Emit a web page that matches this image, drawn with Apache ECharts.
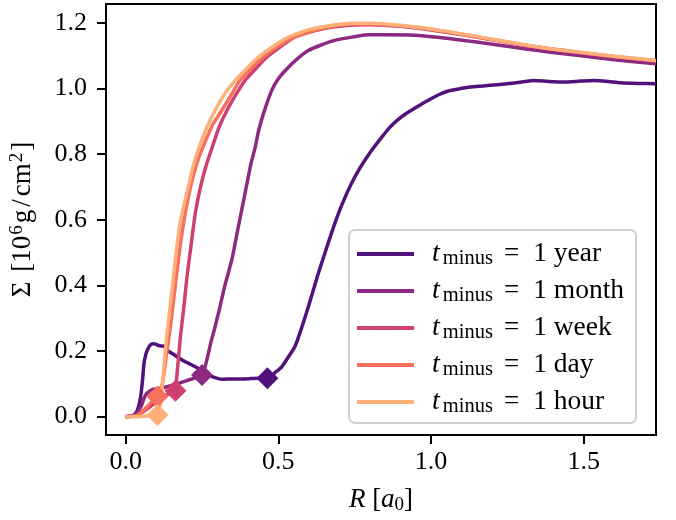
<!DOCTYPE html>
<html>
<head>
<meta charset="utf-8">
<script src="https://cdn.jsdelivr.net/npm/echarts@6/dist/echarts.min.js"></script>
<style>html,body{margin:0;padding:0;background:#fff}#c{width:676px;height:520px}</style>
</head>
<body>
<div id="c"></div>
<script>
// ---- data (R [a0], Sigma [1e6 g/cm2]) ----
const seriesNames = ['1 year', '1 month', '1 week', '1 day', '1 hour'];
const seriesColors = ['#51127c', '#8c2981', '#cd4071', '#f7705c', '#feb078'];

const yearPts = [[0,0],[0.02,0.002],[0.033,0.01],[0.042,0.03],[0.049,0.061],[0.055,0.11],[0.06,0.163],[0.066,0.19],[0.071,0.203],[0.08,0.218],[0.09,0.222],[0.098,0.221],[0.11,0.216],[0.125,0.215],[0.14,0.2],[0.16,0.188],[0.185,0.173],[0.205,0.163],[0.228,0.152],[0.25,0.14],[0.272,0.127],[0.295,0.118],[0.315,0.114],[0.35,0.115],[0.38,0.115],[0.41,0.116],[0.435,0.117],[0.464,0.117],[0.49,0.135],[0.511,0.152],[0.535,0.185],[0.554,0.213],[0.576,0.27],[0.6,0.34],[0.631,0.437],[0.66,0.52],[0.685,0.589],[0.71,0.65],[0.739,0.71],[0.77,0.762],[0.804,0.81],[0.837,0.85],[0.865,0.882],[0.891,0.905],[0.92,0.925],[0.946,0.94],[0.975,0.956],[1.0,0.969],[1.027,0.982],[1.054,0.992],[1.09,0.999],[1.13,1.005],[1.17,1.008],[1.217,1.012],[1.272,1.017],[1.337,1.025],[1.385,1.022],[1.435,1.02],[1.49,1.023],[1.533,1.025],[1.58,1.022],[1.62,1.018],[1.68,1.016],[1.737,1.015]];

const monthPts = [[0,0],[0.03,0.005],[0.05,0.03],[0.065,0.066],[0.085,0.082],[0.11,0.086],[0.15,0.095],[0.2,0.11],[0.25,0.127],[0.265,0.17],[0.28,0.23],[0.29,0.264],[0.305,0.32],[0.325,0.4],[0.348,0.48],[0.365,0.56],[0.38,0.63],[0.395,0.7],[0.41,0.77],[0.424,0.82],[0.435,0.87],[0.45,0.92],[0.478,0.994],[0.5,1.03],[0.533,1.065],[0.565,1.093],[0.598,1.116],[0.64,1.133],[0.685,1.147],[0.74,1.157],[0.794,1.164],[0.85,1.164],[0.946,1.163],[1.03,1.156],[1.109,1.147],[1.19,1.137],[1.272,1.126],[1.35,1.116],[1.435,1.106],[1.52,1.097],[1.6,1.088],[1.737,1.076]];

const weekPts = [[0,0],[0.04,0.005],[0.08,0.03],[0.12,0.06],[0.16,0.08],[0.17,0.15],[0.18,0.25],[0.19,0.33],[0.2,0.42],[0.212,0.507],[0.228,0.62],[0.245,0.7],[0.265,0.77],[0.283,0.82],[0.305,0.88],[0.332,0.934],[0.36,0.98],[0.391,1.025],[0.425,1.06],[0.462,1.096],[0.51,1.13],[0.553,1.157],[0.6,1.172],[0.65,1.183],[0.7,1.19],[0.75,1.194],[0.8,1.195],[0.9,1.19],[1.0,1.179],[1.163,1.155],[1.326,1.129],[1.489,1.109],[1.6,1.097],[1.737,1.084]];

const dayPts = [[0,0],[0.04,0.005],[0.07,0.03],[0.09,0.05],[0.104,0.061],[0.12,0.1],[0.135,0.2],[0.15,0.3],[0.165,0.42],[0.18,0.53],[0.195,0.62],[0.21,0.69],[0.223,0.74],[0.24,0.79],[0.261,0.84],[0.285,0.89],[0.315,0.934],[0.345,0.98],[0.374,1.025],[0.41,1.06],[0.45,1.095],[0.5,1.13],[0.55,1.155],[0.6,1.173],[0.65,1.185],[0.7,1.193],[0.75,1.197],[0.8,1.197],[0.9,1.191],[1.0,1.181],[1.163,1.156],[1.326,1.13],[1.489,1.11],[1.6,1.098],[1.737,1.085]];

const hourPts = [[0,0],[0.03,0],[0.07,0.002],[0.104,0.005],[0.115,0.05],[0.125,0.15],[0.135,0.25],[0.15,0.37],[0.165,0.5],[0.18,0.6],[0.2,0.68],[0.22,0.76],[0.24,0.82],[0.265,0.88],[0.293,0.934],[0.325,0.985],[0.359,1.025],[0.4,1.065],[0.435,1.096],[0.48,1.127],[0.533,1.157],[0.59,1.177],[0.641,1.188],[0.7,1.196],[0.75,1.199],[0.8,1.199],[0.837,1.198],[0.9,1.193],[1.0,1.182],[1.08,1.17],[1.163,1.157],[1.25,1.143],[1.326,1.131],[1.4,1.12],[1.489,1.111],[1.6,1.099],[1.737,1.086]];

// diamond markers (one per curve)
const markerR = [0.464, 0.25, 0.163, 0.104, 0.104];
const markerS = [0.117, 0.127, 0.079, 0.061, 0.005];

const xTicks = [0.0, 0.5, 1.0, 1.5];
const yTicks = [0.0, 0.2, 0.4, 0.6, 0.8, 1.0, 1.2];

// ---- chart ----
const FONT = 'Liberation Serif';
const allPts = [yearPts, monthPts, weekPts, dayPts, hourPts];
const chart = echarts.init(document.getElementById('c'), null, {renderer: 'canvas'});

const lineSeries = seriesNames.map((n, i) => ({
  name: n, type: 'line', data: allPts[i], showSymbol: false, symbol: 'none',
  smooth: 0.2, lineStyle: {width: 3.5, color: seriesColors[i]}, itemStyle: {color: seriesColors[i]},
  z: 2 + i, animation: false
}));
const markerSeries = seriesNames.map((n, i) => ({
  name: 'm' + i, type: 'scatter', data: [[markerR[i], markerS[i]]],
  symbol: 'diamond', symbolSize: 22, itemStyle: {color: seriesColors[i], opacity: 1},
  z: 10 + i, animation: false
}));

const tickStyle = {show: true, inside: false, length: 9, lineStyle: {color: '#000', width: 2}};

chart.setOption({
  animation: false,
  grid: {left: 104, top: 4, width: 552, height: 431, show: true, borderColor: '#000', borderWidth: 2, backgroundColor: 'transparent'},
  xAxis: {
    type: 'value', min: -0.0645, max: 1.737,
    splitLine: {show: false}, axisLine: {show: true, onZero: false, lineStyle: {color: '#000', width: 2}},
    axisTick: Object.assign({customValues: xTicks}, tickStyle),
    axisLabel: {customValues: xTicks, formatter: v => v.toFixed(1), fontFamily: FONT, fontSize: 26, color: '#000', margin: 14},
    name: '{i|R} [{i|a}{s|0}]', nameLocation: 'middle', nameGap: 50,
    nameTextStyle: {fontFamily: FONT, fontSize: 27, color: '#000', lineHeight: 30,
      rich: {i: {fontStyle: 'italic', fontFamily: FONT, fontSize: 27, lineHeight: 30}, s: {fontFamily: FONT, fontSize: 19, lineHeight: 19, verticalAlign: 'bottom'}}}
  },
  yAxis: {
    type: 'value', min: -0.056, max: 1.258,
    splitLine: {show: false}, axisLine: {show: true, onZero: false, lineStyle: {color: '#000', width: 2}},
    axisTick: Object.assign({customValues: yTicks}, tickStyle),
    axisLabel: {customValues: yTicks, formatter: v => v.toFixed(1), fontFamily: FONT, fontSize: 26, color: '#000', margin: 19},
    name: '{g|Σ}{a|[10}{p|6}{a|g}{sl|/}{a|cm}{p|2}{a|]}', nameLocation: 'middle', nameGap: 68, nameRotate: 90,
    nameTextStyle: {fontFamily: FONT, fontSize: 27, color: '#000', lineHeight: 30,
      rich: {
        g: {fontFamily: FONT, fontSize: 27, lineHeight: 30, padding: [0, 10, 0, 0]},
        a: {fontFamily: FONT, fontSize: 27, lineHeight: 30},
        sl: {fontFamily: FONT, fontSize: 27, lineHeight: 30, padding: [0, 3, 0, 3]},
        p: {fontFamily: FONT, fontSize: 19, lineHeight: 19, verticalAlign: 'top', padding: [0, 2, 0, 1]}
      }}
  },
  legend: {
    data: seriesNames, orient: 'vertical', left: 349, top: 230,
    icon: 'rect', itemWidth: 57, itemHeight: 4, itemGap: 7,
    backgroundColor: '#fff', borderColor: '#d0d0d0', borderWidth: 2, borderRadius: 6,
    padding: [9, 12, 6, 8],
    formatter: n => '{t|t}{s|minus}{e|=}{n|' + n + '}',
    textStyle: {fontFamily: FONT, fontSize: 27, color: '#000', lineHeight: 30,
      rich: {
        t: {fontStyle: 'italic', fontFamily: FONT, fontSize: 28, lineHeight: 30, padding: [0, 0, 0, 13]},
        s: {fontFamily: FONT, fontSize: 20.5, lineHeight: 18, verticalAlign: 'bottom', padding: [0, 0, 0, 3]},
        e: {fontFamily: FONT, fontSize: 27, lineHeight: 30, padding: [0, 14, 0, 11]},
        n: {fontFamily: FONT, fontSize: 27.5, lineHeight: 30}
      }}
  },
  series: lineSeries.concat(markerSeries)
});
</script>
</body>
</html>
